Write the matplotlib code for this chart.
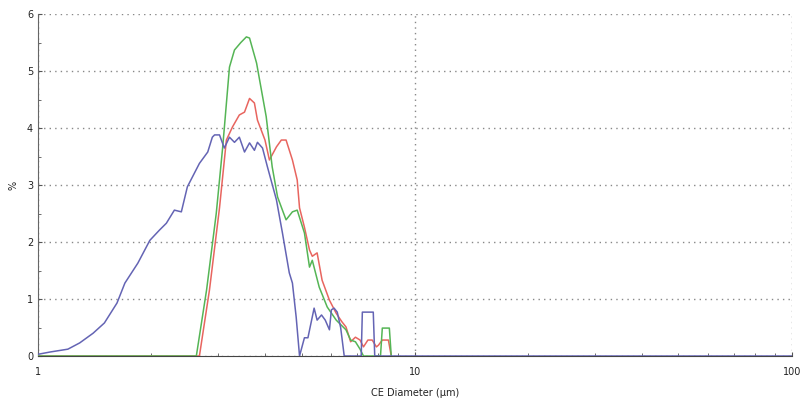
import matplotlib
matplotlib.use("Agg")
import matplotlib.pyplot as plt
from matplotlib.ticker import LogLocator, MultipleLocator, FixedLocator, NullFormatter

# Blue series
blue_x = [1.0, 1.076, 1.20, 1.29, 1.40, 1.50, 1.62, 1.70, 1.84, 1.98, 2.10, 2.19, 2.30, 2.40,
          2.49, 2.68, 2.82, 2.90, 2.94, 3.03, 3.12, 3.22, 3.32, 3.42, 3.53, 3.64, 3.75, 3.82,
          3.94, 4.06, 4.29, 4.45, 4.64, 4.73, 4.84, 4.94, 5.09, 5.20, 5.40, 5.50, 5.65, 5.78,
          5.93, 6.00, 6.10, 6.22, 6.35, 6.49, 7.20, 7.25, 7.75, 7.82, 100.0]
blue_y = [0.03, 0.07, 0.12, 0.23, 0.40, 0.58, 0.93, 1.28, 1.63, 2.03, 2.21, 2.33, 2.56, 2.53,
          2.97, 3.38, 3.58, 3.84, 3.88, 3.88, 3.65, 3.84, 3.75, 3.84, 3.58, 3.74, 3.61, 3.75,
          3.65, 3.32, 2.74, 2.16, 1.46, 1.28, 0.68, 0.0, 0.32, 0.32, 0.84, 0.63, 0.72, 0.63,
          0.46, 0.81, 0.84, 0.77, 0.50, 0.0, 0.0, 0.77, 0.77, 0.0, 0.0]

# Red series
red_x = [1.0, 2.68, 2.85, 3.03, 3.16, 3.28, 3.42, 3.53, 3.64, 3.75, 3.82, 4.00, 4.11, 4.29,
         4.42, 4.55, 4.73, 4.87, 4.94, 5.09, 5.25, 5.34, 5.50, 5.67, 5.93, 6.18, 6.40, 6.56,
         6.75, 6.95, 7.15, 7.30, 7.50, 7.70, 7.90, 8.00, 8.19, 8.50, 8.65]
red_y = [0.0, 0.0, 1.16, 2.60, 3.79, 4.02, 4.23, 4.28, 4.52, 4.44, 4.14, 3.79, 3.44, 3.67,
         3.79, 3.79, 3.44, 3.09, 2.60, 2.26, 1.86, 1.75, 1.81, 1.33, 0.98, 0.75, 0.60, 0.51,
         0.25, 0.33, 0.28, 0.16, 0.28, 0.28, 0.16, 0.19, 0.28, 0.28, 0.0]

# Green series
green_x = [1.0, 2.63, 2.80, 2.97, 3.09, 3.22, 3.32, 3.45, 3.57, 3.64, 3.80, 4.03, 4.18, 4.32,
           4.45, 4.55, 4.73, 4.87, 5.09, 5.25, 5.34, 5.57, 5.85, 6.18, 6.56, 6.75, 6.95, 7.15,
           7.30, 8.10, 8.19, 8.55, 8.65]
green_y = [0.0, 0.0, 1.16, 2.50, 3.67, 5.07, 5.37, 5.50, 5.60, 5.58, 5.14, 4.20, 3.32, 2.79,
           2.56, 2.39, 2.53, 2.56, 2.16, 1.56, 1.68, 1.21, 0.86, 0.63, 0.46, 0.28, 0.25, 0.12,
           0.0, 0.0, 0.49, 0.49, 0.0]

x_major = [1, 10, 100]
x_labels = ["1", "10", "100"]
y_ticks = [0, 1, 2, 3, 4, 5, 6]

fig = plt.figure(figsize=(8.02, 4.03), dpi=100)
ax = fig.add_axes([0.0474, 0.1166, 0.9401, 0.8484])

ax.plot(red_x, red_y, color="#e8655f", lw=1.1, zorder=3)
ax.plot(green_x, green_y, color="#55b555", lw=1.1, zorder=4)
ax.plot(blue_x, blue_y, color="#6464b4", lw=1.1, zorder=5)

ax.set_xscale("log")
ax.set_xlim(1, 100)
ax.set_ylim(0, 6)
ax.xaxis.set_major_locator(FixedLocator(x_major))
ax.set_xticklabels(x_labels)
ax.xaxis.set_minor_locator(LogLocator(base=10, subs=range(2, 10)))
ax.xaxis.set_minor_formatter(NullFormatter())
ax.set_yticks(y_ticks)
ax.yaxis.set_minor_locator(MultipleLocator(0.5))

ax.grid(True, which="major", linestyle=(0, (1, 3)), color="#888888", lw=1.0)
for s in ["top", "right"]:
    ax.spines[s].set_visible(False)
ax.spines["left"].set_color("#666666")
ax.spines["bottom"].set_color("#444444")
ax.tick_params(axis="both", which="both", direction="in", colors="#555555", labelcolor="#222222",
               labelsize=7)
ax.tick_params(axis="both", which="major", length=3)
ax.tick_params(axis="both", which="minor", length=2)
ax.tick_params(axis="x", which="major", pad=8)

ax.set_xlabel("CE Diameter (µm)", fontsize=7, color="#222222", labelpad=8)
ax.set_ylabel("%", fontsize=7, color="#222222", labelpad=6)

fig.savefig("out.png", dpi=100)
